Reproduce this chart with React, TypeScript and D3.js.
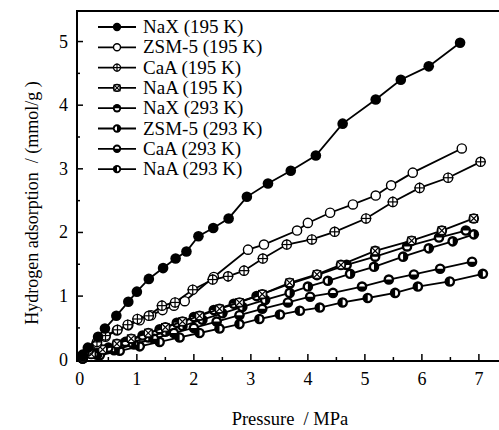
import React from 'react';
import * as d3 from 'd3';

// series names as in the legend
const seriesNames = [
  'NaX (195 K)', 'ZSM-5 (195 K)', 'CaA (195 K)', 'NaA (195 K)',
  'NaX (293 K)', 'ZSM-5 (293 K)', 'CaA (293 K)', 'NaA (293 K)',
];

// pressure (MPa) and uptake (mmol/g)
const naX195P = [0.05, 0.14, 0.32, 0.44, 0.64, 0.85, 1.0, 1.21, 1.46, 1.68, 1.87, 2.08, 2.34, 2.61, 2.93, 3.3, 3.7, 4.14, 4.61, 5.19, 5.63, 6.12, 6.67];
const naX195Q = [0.08, 0.19, 0.36, 0.49, 0.69, 0.91, 1.07, 1.27, 1.44, 1.59, 1.7, 1.94, 2.07, 2.22, 2.56, 2.77, 2.97, 3.21, 3.71, 4.09, 4.4, 4.61, 4.98];

const zsm195P = [0.05, 0.15, 0.3, 0.45, 0.65, 0.85, 1.05, 1.25, 1.45, 1.65, 1.84, 2.35, 2.95, 3.23, 3.81, 4.0, 4.39, 4.79, 5.19, 5.46, 5.84, 6.7];
const zsm195Q = [0.06, 0.14, 0.25, 0.36, 0.46, 0.54, 0.62, 0.7, 0.78, 0.85, 0.92, 1.3, 1.73, 1.81, 2.03, 2.15, 2.31, 2.44, 2.58, 2.74, 2.94, 3.32];

const caA195P = [0.05, 0.15, 0.3, 0.45, 0.66, 0.84, 1.01, 1.21, 1.44, 1.67, 1.98, 2.33, 2.6, 2.88, 3.21, 3.63, 4.07, 4.47, 5.02, 5.49, 5.96, 6.46, 7.03];
const caA195Q = [0.07, 0.16, 0.28, 0.38, 0.47, 0.55, 0.64, 0.69, 0.85, 0.9, 1.1, 1.26, 1.31, 1.4, 1.59, 1.81, 1.89, 2.01, 2.22, 2.48, 2.7, 2.86, 3.11];

const naA195P = [0.05, 0.2, 0.4, 0.65, 0.9, 1.2, 1.5, 1.8, 2.1, 2.45, 2.8, 3.2, 3.68, 4.16, 4.58, 5.18, 5.82, 6.35, 6.91];
const naA195Q = [0.03, 0.09, 0.16, 0.25, 0.33, 0.42, 0.51, 0.6, 0.69, 0.8, 0.9, 1.03, 1.21, 1.34, 1.49, 1.71, 1.87, 2.03, 2.22];

const naX293P = [0.05, 0.25, 0.5, 0.8, 1.1, 1.4, 1.7, 2.0, 2.35, 2.7, 3.1, 3.68, 4.16, 4.68, 5.18, 5.74, 6.3, 6.77];
const naX293Q = [0.03, 0.1, 0.19, 0.28, 0.38, 0.48, 0.58, 0.67, 0.78, 0.88, 1.0, 1.19, 1.33, 1.49, 1.62, 1.78, 1.92, 2.03];

const zsm293P = [0.05, 0.3, 0.6, 0.9, 1.2, 1.5, 1.8, 2.15, 2.5, 2.85, 3.25, 3.68, 4.0, 4.35, 4.74, 5.16, 5.67, 6.12, 6.54, 6.91];
const zsm293Q = [0.02, 0.09, 0.18, 0.27, 0.35, 0.44, 0.53, 0.63, 0.73, 0.83, 0.94, 1.05, 1.15, 1.24, 1.35, 1.46, 1.62, 1.75, 1.86, 1.97];

const caA293P = [0.05, 0.3, 0.6, 0.95, 1.3, 1.65, 2.0, 2.4, 2.8, 3.2, 3.65, 4.04, 4.44, 4.95, 5.42, 5.86, 6.32, 6.88];
const caA293Q = [0.02, 0.08, 0.15, 0.24, 0.33, 0.42, 0.5, 0.6, 0.7, 0.8, 0.9, 0.99, 1.05, 1.15, 1.26, 1.34, 1.43, 1.54];

const naA293P = [0.05, 0.35, 0.7, 1.05, 1.4, 1.75, 2.1, 2.45, 2.8, 3.15, 3.51, 3.86, 4.21, 4.61, 5.05, 5.53, 5.93, 6.49, 7.07];
const naA293Q = [0.02, 0.07, 0.14, 0.21, 0.28, 0.35, 0.42, 0.49, 0.56, 0.64, 0.71, 0.77, 0.82, 0.9, 0.97, 1.05, 1.15, 1.23, 1.35];

const xTicks = [0, 1, 2, 3, 4, 5, 6, 7];
const yTicks = [0, 1, 2, 3, 4, 5];

const allP = [naX195P, zsm195P, caA195P, naA195P, naX293P, zsm293P, caA293P, naA293P];
const allQ = [naX195Q, zsm195Q, caA195Q, naA195Q, naX293Q, zsm293Q, caA293Q, naA293Q];
const markerKind = ['filled', 'open', 'plus', 'cross', 'bottomWhite', 'leftWhite', 'topWhite', 'rightWhite'];
// which series goes on top of which (last drawn = on top)
const drawOrder = [7, 6, 5, 4, 3, 1, 2, 0];

const W = 499;
const H = 430;
const font = '"Liberation Serif", "Times New Roman", serif';

const x = d3.scaleLinear().domain([-0.05, 7.3]).range([77, 496]);
const y = d3.scaleLinear().domain([-0.02, 5.48]).range([361, 11]);

const Marker = ({ kind, cx, cy, r }: { kind: string; cx: number; cy: number; r: number }) => {
  const sw = 1.4;
  const halfArc = (a0: number) =>
    d3.arc()({ innerRadius: 0, outerRadius: r, startAngle: a0, endAngle: a0 + Math.PI }) as string;
  if (kind === 'filled') return <circle cx={cx} cy={cy} r={r} fill="#000" />;
  if (kind === 'open') return <circle cx={cx} cy={cy} r={r - sw / 2} fill="#fff" stroke="#000" strokeWidth={sw} />;
  if (kind === 'plus' || kind === 'cross') {
    const d = kind === 'plus' ? r : r * 0.72;
    const lines = kind === 'plus'
      ? [[cx - d, cy, cx + d, cy], [cx, cy - d, cx, cy + d]]
      : [[cx - d, cy - d, cx + d, cy + d], [cx - d, cy + d, cx + d, cy - d]];
    return (
      <g>
        <circle cx={cx} cy={cy} r={r - sw / 2} fill="#fff" stroke="#000" strokeWidth={sw} />
        {kind === 'cross' && (
          <rect x={cx - r * 0.72} y={cy - r * 0.72} width={r * 1.44} height={r * 1.44} fill="none" stroke="#000" strokeWidth={1} />
        )}
        {lines.map((l, i) => (
          <line key={i} x1={l[0]} y1={l[1]} x2={l[2]} y2={l[3]} stroke="#000" strokeWidth={1.2} />
        ))}
      </g>
    );
  }
  // half-white markers: black disc with a white half
  const start: Record<string, number> = {
    topWhite: -Math.PI / 2,
    bottomWhite: Math.PI / 2,
    leftWhite: Math.PI,
    rightWhite: 0,
  };
  return (
    <g>
      <circle cx={cx} cy={cy} r={r} fill="#000" />
      <path d={halfArc(start[kind])} transform={`translate(${cx},${cy}) scale(0.55)`} fill="#fff" />
    </g>
  );
};

const App = () => {
  const line = d3.line<[number, number]>().x(d => x(d[0])).y(d => y(d[1]));
  const minorX = d3.range(0.5, 7.4, 1);
  const minorY = d3.range(0.5, 5.4, 1);

  return (
    <svg width={W} height={H} style={{ position: 'absolute', left: 0, top: 0, background: '#fff' }} fontFamily={font}>
      {/* frame */}
      <line x1={77} y1={11} x2={W} y2={11} stroke="#000" strokeWidth={2} />
      <line x1={77} y1={10} x2={77} y2={362} stroke="#000" strokeWidth={2} />
      <line x1={76} y1={361} x2={W} y2={361} stroke="#000" strokeWidth={2} />

      {/* ticks */}
      {yTicks.map(t => (
        <g key={'y' + t}>
          <line x1={77} x2={83} y1={y(t)} y2={y(t)} stroke="#000" strokeWidth={1.5} />
          <text x={68} y={y(t) + 6} fontSize={18} textAnchor="end">{t}</text>
        </g>
      ))}
      {minorY.map(t => (
        <line key={'my' + t} x1={77} x2={80} y1={y(t)} y2={y(t)} stroke="#000" strokeWidth={1.5} />
      ))}
      {xTicks.map(t => (
        <g key={'x' + t}>
          <line x1={x(t)} x2={x(t)} y1={361} y2={354} stroke="#000" strokeWidth={1.5} />
          <text x={x(t)} y={385} fontSize={18} textAnchor="middle">{t}</text>
        </g>
      ))}
      {minorX.map(t => (
        <line key={'mx' + t} x1={x(t)} x2={x(t)} y1={361} y2={357} stroke="#000" strokeWidth={1.5} />
      ))}

      {/* axis titles */}
      <text x={290} y={425} fontSize={18.5} textAnchor="middle" xmlSpace="preserve">Pressure  / MPa</text>
      <text transform="translate(38,203) rotate(-90)" fontSize={18} textAnchor="middle" xmlSpace="preserve">Hydrogen adsorption  / (mmol/g )</text>

      {/* series */}
      {drawOrder.map(i => {
        const pts = allP[i].map((p, j) => [p, allQ[i][j]] as [number, number]);
        return (
          <g key={seriesNames[i]}>
            <path d={line(pts) as string} fill="none" stroke="#000" strokeWidth={1.8} />
            {pts.map((d, j) => (
              <Marker key={j} kind={markerKind[i]} cx={x(d[0])} cy={y(d[1])} r={5.3} />
            ))}
          </g>
        );
      })}

      {/* legend */}
      {seriesNames.map((name, i) => {
        const ly = 27 + i * 20.3;
        return (
          <g key={'leg' + name}>
            <line x1={98} x2={136} y1={ly} y2={ly} stroke="#000" strokeWidth={1.8} />
            <Marker kind={markerKind[i]} cx={117} cy={ly} r={4.2} />
            <text x={143} y={ly + 6} fontSize={19}>{name}</text>
          </g>
        );
      })}
    </svg>
  );
};

export default App;
